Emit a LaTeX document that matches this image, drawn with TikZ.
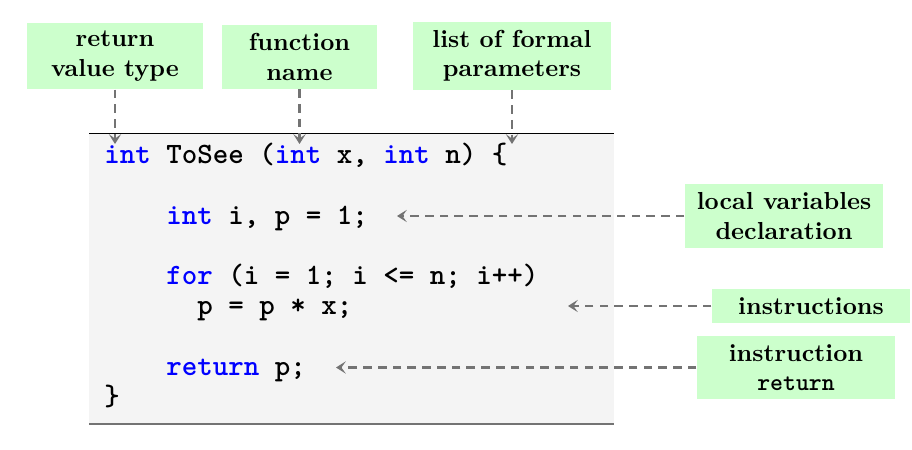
\documentclass[tikz,border=0pt]{standalone}
\usepackage{xcolor}
\definecolor{cfgreen}{RGB}{204,255,204}
\definecolor{cfback}{RGB}{244,244,244}
\definecolor{cfgray}{RGB}{115,115,115}
\definecolor{cfblue}{RGB}{0,0,255}
\usetikzlibrary{arrows.meta}
\newcommand{\kw}[1]{\textcolor{cfblue}{#1}}
\tikzset{
  lbl/.style={fill=cfgreen,font=\bfseries,align=center,minimum width=80.5pt},
  codeln/.style={anchor=base west,inner sep=0pt,font=\ttfamily\bfseries\fontsize{12}{12}\selectfont},
  pointer/.style={cfgray,line width=1pt,dash pattern=on 3.5pt off 2.5pt,-{Stealth[length=4pt,width=5pt,inset=1.8pt]}}
}
\begin{document}
\begin{tikzpicture}[x=0.4065pt,y=-0.4065pt]
\useasboundingbox (0,0) rectangle (912,450);
% ---- code block ----
\fill[cfback] (89,133) rectangle (614,424);
\draw[line width=0.4pt] (89,133) -- (614,133);
\draw[cfgray,line width=0.8pt] (89,424) -- (614,424);
\node[codeln] (cHead) at (104,163) {\kw{int} ToSee (\kw{int} x, \kw{int} n) \{};
\node[codeln] (cDecl) at (104,224) {\ \ \ \ \kw{int} i, p = 1;};
\node[codeln] (cFor) at (104,284) {\ \ \ \ \kw{for} (i = 1; i <= n; i++)};
\node[codeln] (cBody) at (104,314.5) {\ \ \ \ \ \ p = p * x;};
\node[codeln] (cRet) at (104,375) {\ \ \ \ \kw{return} p;};
\node[codeln] (cEnd) at (104,405) {\}};
% ---- labels ----
\node[lbl,minimum width=71.5pt] (rettype) at (115,56) {return\\value type};
\node[lbl,minimum width=63pt] (fname) at (299.5,57) {function\\name};
\node[lbl] (params) at (512,56) {list of formal\\parameters};
\node[lbl] (locals) at (784,216) {local variables\\declaration};
\node[lbl] (instr) at (811,306) {instructions};
\node[lbl] (retinstr) at (796,367.5) {instruction\\\texttt{return}};
% arrow tips
\coordinate (tRet) at (115,144);
\coordinate (tName) at (299.5,144);
\coordinate (tPar) at (512,144);
\coordinate (tLoc) at (397,216);
\coordinate (tIns) at (568,306);
\coordinate (tRi) at (336,367.5);
\draw[pointer] (rettype) -- (tRet);
\draw[pointer] (fname) -- (tName);
\draw[pointer] (params) -- (tPar);
\draw[pointer] (locals) -- (tLoc);
\draw[pointer] (instr) -- (tIns);
\draw[pointer] (retinstr) -- (tRi);
\end{tikzpicture}
\end{document}
